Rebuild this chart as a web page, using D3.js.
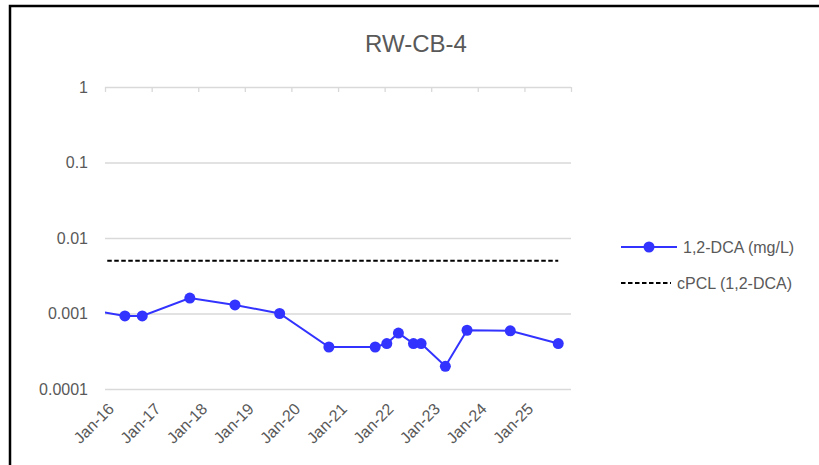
<!DOCTYPE html>
<html>
<head>
<meta charset="utf-8">
<script src="https://d3js.org/d3.v7.min.js"></script>
<style>
  body { margin: 0; background: #fff; }
  svg { font-family: "Liberation Sans", Arial, sans-serif; }
</style>
</head>
<body>
<div id="chart"></div>
<script>
// sample dates and 1,2-DCA results (mg/L)
var sampleDates = ["2015-10-01", "2016-06-05", "2016-10-19", "2017-10-27", "2018-10-16",
    "2019-10-01", "2020-10-21", "2021-10-19", "2022-01-18", "2022-04-19", "2022-08-15",
    "2022-10-14", "2023-04-22", "2023-10-09", "2024-09-12", "2025-09-23"]
var dcaValues = [0.0011, 0.00093, 0.00093, 0.0016, 0.0013, 0.001, 0.00036, 0.00036,
    0.0004, 0.00055, 0.0004, 0.0004, 0.0002, 0.0006, 0.00059, 0.0004]
// screening level, same for every sample
var cpclValue = 0.005

var yTicks = [1, 0.1, 0.01, 0.001, 0.0001]
var yTickLabels = ["1", "0.1", "0.01", "0.001", "0.0001"]
var xTickLabels = ["Jan-16", "Jan-17", "Jan-18", "Jan-19", "Jan-20",
    "Jan-21", "Jan-22", "Jan-23", "Jan-24", "Jan-25", ""]

var seriesNames = ["1,2-DCA (mg/L)", "cPCL (1,2-DCA)"]

var width = 819
var height = 465
var textColor = "#595959"
var blue = "#3333ff"

var parse = d3.timeParse("%Y-%m-%d")
var data = sampleDates.map(function (d, i) {
    return { date: parse(d), dca: dcaValues[i], cpcl: cpclValue }
})

var x = d3.scaleTime()
    .domain([new Date(2016, 0, 1), new Date(2026, 0, 1)])
    .range([105, 571])
var y = d3.scaleLog()
    .domain([0.0001, 1])
    .range([389, 87])

var svg = d3.select("#chart").append("svg")
    .attr("width", width)
    .attr("height", height)

// frame
svg.append("rect")
    .attr("x", 10).attr("y", 6)
    .attr("width", width + 10).attr("height", height + 10)
    .attr("fill", "none")
    .attr("stroke", "#000")
    .attr("stroke-width", 2.5)

svg.append("text")
    .attr("x", 416).attr("y", 52)
    .attr("text-anchor", "middle")
    .attr("fill", textColor)
    .style("font-size", "24px")
    .text("RW-CB-4")

// gridlines + y labels
var yAxis = d3.axisLeft(y)
    .tickValues(yTicks)
    .tickSize(-(x.range()[1] - x.range()[0]))
    .tickPadding(17)
    .tickFormat(function (d, i) { return yTickLabels[i] })
var gy = svg.append("g")
    .attr("transform", "translate(" + x.range()[0] + ",0)")
    .call(yAxis)
gy.select(".domain").remove()
gy.selectAll(".tick line").attr("stroke", "#d9d9d9").attr("stroke-width", 1.3)
gy.selectAll(".tick text")
    .attr("fill", textColor)
    .style("font-size", "16px")
    .style("font-family", "Liberation Sans, Arial, sans-serif")

// year ticks hang from the top line, labels sit low
var yearTicks = d3.timeYear.range(new Date(2016, 0, 1), new Date(2026, 0, 2))
var xAxis = d3.axisBottom(x)
    .tickValues(yearTicks)
    .tickSize(5)
    .tickFormat("")
var gx = svg.append("g")
    .attr("transform", "translate(0," + y(1) + ")")
    .call(xAxis)
gx.select(".domain").remove()
gx.selectAll(".tick line").attr("stroke", "#d9d9d9").attr("stroke-width", 1.3)

svg.append("g").selectAll("text")
    .data(yearTicks)
    .enter()
    .append("text")
    .attr("transform", function (d) {
        return "translate(" + (x(d) + 6) + ",406) rotate(-45)"
    })
    .attr("text-anchor", "end")
    .attr("dy", "0.35em")
    .attr("fill", textColor)
    .style("font-size", "16px")
    .text(function (d, i) { return xTickLabels[i] })

// clip so the older sample runs off the left edge
svg.append("clipPath").attr("id", "plot-clip")
    .append("rect")
    .attr("x", x.range()[0]).attr("y", 0)
    .attr("width", x.range()[1] - x.range()[0] + 10).attr("height", height)

var plot = svg.append("g").attr("clip-path", "url(#plot-clip)")

var cpclLine = d3.line()
    .x(function (d) { return x(d.date) })
    .y(function (d) { return y(d.cpcl) })
plot.append("path")
    .datum(data)
    .attr("d", cpclLine)
    .attr("fill", "none")
    .attr("stroke", "#000")
    .attr("stroke-width", 1.8)
    .attr("stroke-dasharray", "4.5,2.5")

var dcaLine = d3.line()
    .x(function (d) { return x(d.date) })
    .y(function (d) { return y(d.dca) })
plot.append("path")
    .datum(data)
    .attr("d", dcaLine)
    .attr("fill", "none")
    .attr("stroke", blue)
    .attr("stroke-width", 2)

plot.selectAll("circle")
    .data(data.filter(function (d) { return d.date >= x.domain()[0] }))
    .enter()
    .append("circle")
    .attr("cx", function (d) { return x(d.date) })
    .attr("cy", function (d) { return y(d.dca) })
    .attr("r", 5.5)
    .attr("fill", blue)

// legend
var legend = svg.append("g")
legend.append("line")
    .attr("x1", 621).attr("x2", 677).attr("y1", 247).attr("y2", 247)
    .attr("stroke", blue).attr("stroke-width", 2)
legend.append("circle")
    .attr("cx", 649).attr("cy", 247).attr("r", 5.5).attr("fill", blue)
legend.append("line")
    .attr("x1", 621).attr("x2", 671).attr("y1", 283).attr("y2", 283)
    .attr("stroke", "#000").attr("stroke-width", 1.8)
    .attr("stroke-dasharray", "4.5,2.5")
legend.selectAll("text")
    .data(seriesNames)
    .enter()
    .append("text")
    .attr("x", function (d, i) { return i === 0 ? 683 : 677 })
    .attr("y", function (d, i) { return i === 0 ? 247 : 283 })
    .attr("dy", "0.35em")
    .attr("fill", textColor)
    .style("font-size", "16px")
    .text(function (d) { return d })
</script>
</body>
</html>
